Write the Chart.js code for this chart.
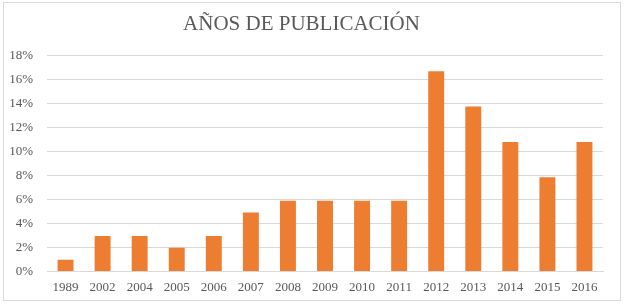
<!DOCTYPE html>
<html>
<head>
<meta charset="utf-8">
<script src="https://cdn.jsdelivr.net/npm/chart.js@4/dist/chart.umd.min.js"></script>
<style>
  body { margin: 0; background: #fff; }
  #wrap { position: relative; width: 627px; height: 304px; }
  #frame { position: absolute; left: 3px; top: 2px; width: 616px; height: 297px; border: 1px solid #d9d9d9; pointer-events: none; }
</style>
</head>
<body>
<div id="wrap">
  <canvas id="chart" width="627" height="304"></canvas>
  <div id="frame"></div>
</div>
<script>
// Años y porcentaje de publicaciones (102 en total)
const years = ['1989', '2002', '2004', '2005', '2006', '2007', '2008', '2009', '2010', '2011', '2012', '2013', '2014', '2015', '2016'];
const shares = [0.98, 2.94, 2.94, 1.96, 2.94, 4.90, 5.88, 5.88, 5.88, 5.88, 16.67, 13.73, 10.78, 7.84, 10.78];
const yTicks = [0, 2, 4, 6, 8, 10, 12, 14, 16, 18];

const serif = '"Liberation Serif", "Times New Roman", serif';

const ctx = document.getElementById('chart').getContext('2d');

new Chart(ctx, {
    type: 'bar',
    data: {
        labels: years,
        datasets: [{
            data: shares,
            backgroundColor: '#ED7D31',
            categoryPercentage: 1,
            barPercentage: 0.43
        }]
    },
    options: {
        responsive: false,
        animation: false,
        layout: { padding: { left: 0, right: 24, top: 0, bottom: 1 } },
        plugins: {
            legend: { display: false },
            tooltip: { enabled: false },
            title: {
                display: true,
                text: 'AÑOS DE PUBLICACIÓN',
                color: '#595959',
                font: { family: serif, size: 21, weight: 'normal' },
                padding: { top: 12, bottom: 18 }
            }
        },
        scales: {
            x: {
                grid: { display: false, drawTicks: false },
                border: { color: '#d9d9d9' },
                ticks: { color: '#595959', font: { family: serif, size: 13 }, padding: 8 }
            },
            y: {
                min: 0,
                max: 18,
                afterFit: scale => { scale.width = 47; },
                afterBuildTicks: scale => { scale.ticks = yTicks.map(v => ({ value: v })); },
                grid: { color: '#d9d9d9', drawTicks: false },
                border: { display: false },
                ticks: {
                    color: '#595959',
                    font: { family: serif, size: 13 },
                    padding: 14,
                    callback: v => v + '%'
                }
            }
        }
    }
});
</script>
</body>
</html>
